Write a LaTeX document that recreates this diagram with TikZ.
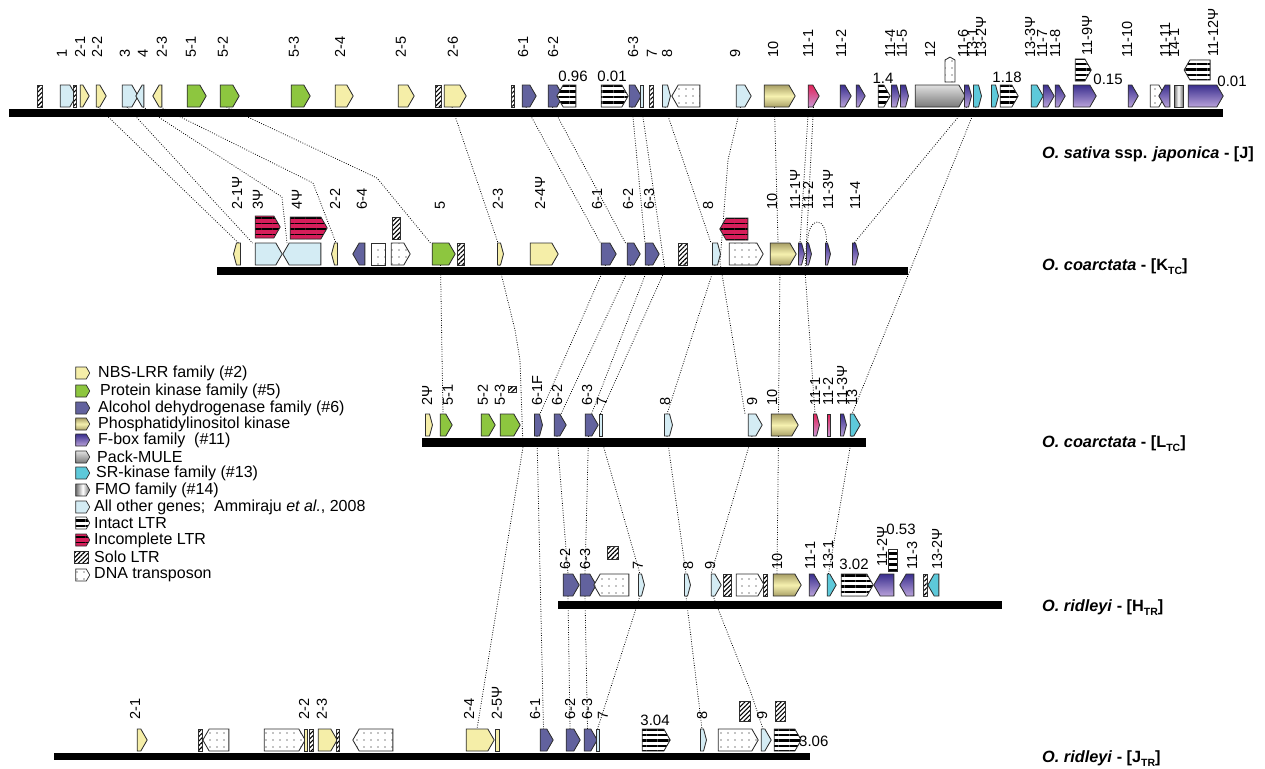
\documentclass[tikz,border=0pt]{standalone}
\usepackage{fontspec}
\setmainfont{Liberation Sans}
\usepackage{xcolor}
\definecolor{edge}{HTML}{2E2E2E}
\definecolor{nbs}{HTML}{F5EEA8}
\definecolor{pkin}{HTML}{8DC63F}
\definecolor{adh}{HTML}{62629E}
\definecolor{pikA}{HTML}{F6F1B0}
\definecolor{pikB}{HTML}{A9A066}
\definecolor{fbA}{HTML}{3A2F8E}
\definecolor{fbB}{HTML}{B9A2DA}
\definecolor{rdA}{HTML}{E2235A}
\definecolor{rdB}{HTML}{C995D2}
\definecolor{muleA}{HTML}{E0E0E0}
\definecolor{muleB}{HTML}{7A7A7A}
\definecolor{srk}{HTML}{5DC9DA}
\definecolor{fmoA}{HTML}{6E6E6E}
\definecolor{other}{HTML}{D4ECF4}
\definecolor{ltrred}{HTML}{D61E5A}
\usepackage{tikz}
\usetikzlibrary{shapes.symbols, patterns.meta, backgrounds}
\newcommand{\gene}[5]{\node[#1, minimum width={#4-#3}] (#2) at ({(#3+#4)/2},#5) {};}
\newcounter{lab}
\newcommand{\glab}[3]{\stepcounter{lab}\node[genelab] (lab\thelab) at (#1,#2) {#3};}
\newcommand{\sbx}[1]{\raisebox{-0.45ex}{\fontsize{10.5}{10.5}\selectfont #1}}

\begin{document}
\begin{tikzpicture}[
  x=1pt, y=-1pt,
  gene/.style={
    signal, signal to=east, signal pointer angle=120,
    draw=edge, line width=0.85pt, inner sep=0pt, outer sep=0pt,
    minimum height=22pt
  },
  rev/.style={signal to=west},
  slim/.style={signal pointer angle=150},
  sq/.style={shape=rectangle},
  nbs/.style={gene, fill=nbs},
  pk/.style={gene, fill=pkin},
  adh/.style={gene, fill=adh},
  pik/.style={gene, top color=pikB, bottom color=pikB, middle color=pikA},
  fbox/.style={gene, top color=fbA, bottom color=fbB},
  rdx/.style={gene, top color=rdA, bottom color=rdB},
  mule/.style={gene, top color=muleA, bottom color=muleB},
  srk/.style={gene, fill=srk},
  fmo/.style={gene, left color=fmoA, right color=fmoA, middle color=white},
  oth/.style={gene, fill=other},
  ltr/.style={gene, preaction={fill=white},
    pattern={Lines[angle=0,distance=5.5pt,line width=2.7pt]}},
  iltr/.style={gene, preaction={fill=ltrred},
    pattern={Lines[angle=0,distance=5.5pt,line width=1.8pt]}},
  solo/.style={gene, shape=rectangle, preaction={fill=white},
    pattern={Lines[angle=45,distance=3.2pt,line width=1.1pt]}},
  dna/.style={gene, preaction={fill=white},
    pattern={Dots[distance=7pt,radius=0.7pt]}},
  legico/.style={minimum width=14pt, minimum height=12pt, line width=0.7pt},
  genelab/.style={rotate=90, anchor=west, inner sep=0pt,
    font=\fontsize{14.5}{15}\selectfont},
  numlab/.style={inner sep=0pt, font=\fontsize{15}{16}\selectfont},
  legtxt/.style={anchor=west, inner sep=0pt, font=\fontsize{16}{17}\selectfont},
  species/.style={anchor=west, inner sep=0pt, font=\fontsize{16.3}{17}\selectfont\bfseries},
  conn/.style={line width=0.8pt, dash pattern=on 0.8pt off 1.6pt},
  bar/.style={fill=black}
]
\useasboundingbox (0,0) rectangle (1265,768);

% O. sativa [J]
\fill[bar] (9,109) rectangle (1223,117);
\gene{solo}{j-s1}{37}{42}{96}
\gene{oth}{j1}{57}{73}{96}
\gene{solo}{j-s2}{73}{76}{96}
\gene{nbs}{j21}{77}{86}{96}
\gene{nbs}{j22}{93}{103}{96}
\gene{oth}{j3}{119}{135}{96}
\gene{oth,rev}{j4}{139}{147}{96}
\gene{nbs,rev}{j23}{156}{165}{96}
\gene{pk}{j51}{184}{203}{96}
\gene{pk}{j52}{217}{236}{96}
\gene{pk}{j53}{288}{307}{96}
\gene{nbs}{j24}{332}{350}{96}
\gene{nbs}{j25}{395}{411}{96}
\gene{solo}{j-s3}{435}{441}{96}
\gene{nbs}{j26}{441}{463}{96}
\gene{solo}{j-s4}{511}{514}{96}
\gene{adh}{j61}{519}{533}{96}
\gene{adh}{j62}{545}{560}{96}
\gene{ltr,rev}{j-l1}{560}{579}{96}
\gene{ltr}{j-l2}{598}{625}{96}
\gene{adh}{j63}{626}{638}{96}
\gene{oth,sq}{j7}{640}{643}{96}
\gene{solo}{j-s5}{649}{653}{96}
\gene{oth,slim}{j8}{661}{669}{96}
\gene{dna,rev}{j-d1}{675}{703}{96}
\gene{oth}{j9}{733}{748}{96}
\gene{pik}{j10}{761}{792}{96}
\gene{rdx}{j111}{805}{816}{96}
\gene{fbox}{j112}{837}{848}{96}
\gene{fbox}{j113}{853}{862}{96}
\gene{ltr}{j-l3}{875}{887}{96}
\gene{fbox,slim}{j114}{890}{898}{96}
\gene{fbox,slim}{j115}{899}{907}{96}
\gene{mule}{j12}{912}{962}{96}
\node[dna, signal to=north, minimum width=10pt, minimum height=22pt] (j-d3) at (950,71) {};
\gene{fbox,slim}{j116}{963}{970}{96}
\gene{srk,slim}{j131}{972}{980}{96}
\gene{srk,slim}{j132}{990}{997}{96}
\gene{ltr}{j-l4}{997}{1015}{96}
\gene{srk}{j133}{1028}{1040}{96}
\gene{fbox}{j117}{1040}{1051}{96}
\gene{fbox}{j118}{1052}{1062}{96}
\gene{fbox}{j119}{1070}{1093}{96}
\gene{ltr}{j-l5}{1072}{1088}{70}
\gene{fbox}{j1110}{1125}{1135}{96}
\gene{dna}{j-d2}{1147}{1162}{96}
\gene{fbox,rev}{j1111}{1162}{1173}{96}
\gene{fmo,sq}{j141}{1174}{1183}{96}
\gene{fbox}{j1112}{1185}{1220}{96}
\gene{ltr,rev,minimum height=20pt}{j-l6}{1187}{1213}{70}
\node[numlab] (n1) at (573,76) {0.96};
\node[numlab] (n2) at (612,76) {0.01};
\node[numlab] (n3) at (883,78) {1.4};
\node[numlab] (n4) at (1007,77) {1.18};
\node[numlab] (n5) at (1108,79) {0.15};
\node[numlab] (n6) at (1232,81) {0.01};
\glab{62}{58}{1}\glab{80}{58}{2-1}\glab{97}{58}{2-2}\glab{125}{58}{3}
\glab{143}{58}{4}\glab{162}{58}{2-3}\glab{191}{58}{5-1}\glab{223}{58}{5-2}
\glab{294}{58}{5-3}\glab{340}{58}{2-4}\glab{401}{58}{2-5}\glab{453}{58}{2-6}
\glab{523}{58}{6-1}\glab{553}{58}{6-2}\glab{633}{58}{6-3}\glab{652}{58}{7}
\glab{667}{58}{8}\glab{735}{58}{9}\glab{773}{58}{10}\glab{808}{58}{11-1}
\glab{841}{58}{11-2}\glab{890}{58}{11-4}\glab{902}{58}{11-5}\glab{930}{58}{12}
\glab{963}{58}{11-6}\glab{972}{58}{13-1}\glab{981}{58}{13-2Ψ}\glab{1030}{58}{13-3Ψ}
\glab{1042}{58}{11-7}\glab{1055}{58}{11-8}\glab{1087}{56}{11-9Ψ}\glab{1127}{58}{11-10}
\glab{1165}{58}{11-11}\glab{1174}{58}{14-1}\glab{1213}{57}{11-12Ψ}

% O. coarctata [KTC]
\fill[bar] (217,267) rectangle (908,275);
\gene{nbs,rev,slim}{k21p}{235}{242}{254}
\gene{oth}{k3p}{252}{279}{254}
\gene{iltr}{k-i1}{252}{277}{227}
\gene{oth,rev}{k4p}{286}{324}{254}
\gene{iltr}{k-i2}{287}{324}{228}
\gene{nbs,rev,slim}{k22}{333}{339}{254}
\gene{adh,rev}{k64}{356}{368}{254}
\gene{dna,sq}{k-d1}{371}{385}{254}
\gene{dna}{k-d2}{388}{407}{254}
\gene{solo}{k-s1}{392}{400}{228}
\gene{pk}{k5}{429}{452}{254}
\gene{solo}{k-s2}{457}{464}{254}
\gene{nbs,slim}{k23}{496}{502}{254}
\gene{nbs}{k24p}{527}{555}{254}
\gene{adh}{k61}{598}{613}{254}
\gene{adh}{k62}{624}{637}{254}
\gene{adh}{k63}{642}{656}{254}
\gene{solo}{k-s3}{678}{687}{254}
\gene{oth,slim}{k8}{711}{719}{254}
\gene{dna}{k-d3}{726}{760}{254}
\gene{iltr,rev}{k-i3}{723}{751}{229}
\gene{pik}{k10}{767}{793}{254}
\gene{fbox,slim}{k111p}{797}{803}{254}
\gene{fbox,slim}{k112}{805}{810}{254}
\gene{fbox,slim}{k113p}{824}{829}{254}
\gene{fbox,slim}{k114}{851}{857}{254}
\glab{237}{210}{2-1Ψ}\glab{258}{210}{3Ψ}\glab{297}{210}{4Ψ}\glab{335}{210}{2-2}
\glab{362}{210}{6-4}\glab{440}{210}{5}\glab{498}{210}{2-3}\glab{540}{210}{2-4Ψ}
\glab{597}{210}{6-1}\glab{628}{210}{6-2}\glab{649}{210}{6-3}\glab{708}{210}{8}
\glab{772}{210}{10}\glab{795}{210}{11-1Ψ}\glab{808}{210}{11-2}\glab{828}{210}{11-3Ψ}
\glab{855}{210}{11-4}

% O. coarctata [LTC]
\fill[bar] (422,438) rectangle (866,447);
\gene{nbs,slim}{l2p}{424}{431}{425}
\gene{pk}{l51}{437}{449}{425}
\gene{pk}{l52}{478}{492}{425}
\gene{pk}{l53}{497}{517}{425}
\node[solo, minimum width=8pt, minimum height=6pt] (l-s1) at (512,389) {};
\gene{adh,slim}{l61F}{533}{541}{425}
\gene{adh}{l62}{551}{563}{425}
\gene{adh}{l63}{582}{595}{425}
\gene{oth,sq}{l7}{599}{602}{425}
\gene{oth,slim}{l8}{663}{671}{425}
\gene{oth}{l9}{745}{759}{425}
\gene{pik}{l10}{768}{795}{425}
\gene{rdx,slim}{l111}{812}{818}{425}
\gene{rdx,sq}{l112}{827}{830}{425}
\gene{fbox,slim}{l113p}{839}{845}{425}
\gene{srk}{l13}{847}{857}{425}
\glab{427}{406}{2Ψ}\glab{448}{406}{5-1}\glab{483}{406}{5-2}\glab{500}{406}{5-3}
\glab{537}{406}{6-1F}\glab{557}{406}{6-2}\glab{587}{406}{6-3}\glab{602}{406}{7}
\glab{665}{406}{8}\glab{752}{406}{9}\glab{772}{406}{10}\glab{815}{406}{11-1}
\glab{828}{406}{11-2}\glab{842}{406}{11-3Ψ}\glab{852}{406}{13}

% O. ridleyi [HTR]
\fill[bar] (558,601) rectangle (1002,609);
\gene{adh}{h62}{560}{576}{585}
\gene{adh}{h63}{577}{593}{585}
\gene{dna,rev}{h-d1}{597}{632}{585}
\gene{solo,minimum height=13pt}{h-s1}{607}{618}{553}
\gene{oth,slim}{h7}{637}{643}{585}
\gene{oth,slim}{h8}{683}{689}{585}
\gene{oth}{h9}{708}{718}{585}
\gene{solo}{h-s2}{723}{731}{585}
\gene{dna}{h-d2}{733}{761}{585}
\gene{solo}{h-s3}{763}{767}{585}
\gene{pik}{h10}{770}{798}{585}
\gene{fbox}{h111}{806}{817}{585}
\gene{srk}{h131}{824}{833}{585}
\gene{ltr}{h-l1}{838}{870}{585}
\gene{fbox,rev}{h112p}{877}{897}{585}
\gene{ltr,sq,minimum height=22pt}{h-l2}{888}{897}{560}
\gene{fbox,rev}{h113}{903}{917}{585}
\gene{solo}{h-s4}{923}{927}{585}
\gene{srk,rev}{h132p}{931}{942}{585}
\node[numlab] (n7) at (854,564) {3.02};
\node[numlab] (n8) at (901,529) {0.53};
\glab{565}{570}{6-2}\glab{585}{570}{6-3}\glab{638}{570}{7}\glab{688}{570}{8}
\glab{710}{570}{9}\glab{777}{570}{10}\glab{810}{570}{11-1}\glab{828}{570}{13-1}
\glab{882}{567}{11-2Ψ}\glab{912}{570}{11-3}\glab{937}{570}{13-2Ψ}

% O. ridleyi [JTR]
\fill[bar] (54,753) rectangle (810,760);
\gene{nbs}{t21}{134}{144}{740}
\gene{solo}{t-s1}{198}{202}{740}
\gene{dna,rev}{t-d1}{206}{232}{740}
\gene{dna}{t-d2}{261}{302}{740}
\gene{nbs,sq}{t22}{304}{307}{740}
\gene{solo}{t-s2}{309}{313}{740}
\gene{nbs}{t23}{315}{334}{740}
\gene{solo}{t-s3}{336}{339}{740}
\gene{dna,rev}{t-d3}{356}{396}{740}
\gene{nbs}{t24}{463}{491}{740}
\gene{nbs,sq}{t25p}{495}{499}{740}
\gene{adh}{t61}{537}{550}{740}
\gene{adh}{t62}{563}{577}{740}
\gene{adh}{t63}{581}{594}{740}
\gene{oth,sq}{t7}{596}{599}{740}
\gene{ltr}{t-l1}{639}{667}{740}
\gene{oth,slim}{t8}{699}{705}{740}
\gene{dna}{t-d4}{715}{755}{740}
\gene{oth}{t9}{758}{768}{740}
\gene{ltr}{t-l2}{771}{798}{740}
\gene{solo,minimum height=20pt}{t-s4}{739}{750}{711}
\gene{solo,minimum height=20pt}{t-s5}{775}{785}{711}
\node[numlab] (n9) at (655,720) {3.04};
\node[numlab, anchor=west] (n10) at (799,741) {3.06};
\glab{135}{720}{2-1}\glab{304}{720}{2-2}\glab{322}{720}{2-3}\glab{469}{720}{2-4}
\glab{497}{720}{2-5Ψ}\glab{535}{720}{6-1}\glab{570}{720}{6-2}\glab{587}{720}{6-3}
\glab{603}{720}{7}\glab{702}{720}{8}\glab{762}{720}{9}

% species
\node[species] (sp1) at (1042,154) {\textit{O. sativa} ssp. \textit{japonica} - [J]};
\node[species] (sp2) at (1042,267) {\textit{O. coarctata} - [K\sbx{TC}]};
\node[species] (sp3) at (1042,444) {\textit{O. coarctata} - [L\sbx{TC}]};
\node[species] (sp4) at (1042,608) {\textit{O. ridleyi} - [H\sbx{TR}]};
\node[species] (sp5) at (1042,759) {\textit{O. ridleyi} - [J\sbx{TR}]};

% legend
\node[nbs, legico] (lg1) at (81,373) {};
\node[legtxt] (lt1) at (98,373) {NBS-LRR family (\#2)};
\node[pk, legico] (lg2) at (81,391) {};
\node[legtxt] (lt2) at (100,391) {Protein kinase family (\#5)};
\node[adh, legico] (lg3) at (81,408) {};
\node[legtxt] (lt3) at (98,408) {Alcohol dehydrogenase family (\#6)};
\node[pik, legico] (lg4) at (81,424) {};
\node[legtxt] (lt4) at (98,424) {Phosphatidylinositol kinase};
\node[fbox, legico] (lg5) at (81,440) {};
\node[legtxt] (lt5) at (98,440) {F-box family\ \ (\#11)};
\node[mule, legico] (lg6) at (81,457) {};
\node[legtxt] (lt6) at (97,457) {Pack-MULE};
\node[srk, legico] (lg7) at (81,473) {};
\node[legtxt] (lt7) at (96,473) {SR-kinase family (\#13)};
\node[fmo, legico] (lg8) at (81,490) {};
\node[legtxt] (lt8) at (95,490) {FMO family (\#14)};
\node[oth, legico] (lg9) at (81,507) {};
\node[legtxt] (lt9) at (94,507) {All other genes;\ \ Ammiraju \textit{et al.}, 2008};
\node[ltr, legico] (lg10) at (81,523) {};
\node[legtxt] (lt10) at (94,523) {Intact LTR};
\node[iltr, legico] (lg11) at (81,540) {};
\node[legtxt] (lt11) at (94,540) {Incomplete LTR};
\node[solo, legico] (lg12) at (81,557) {};
\node[legtxt] (lt12) at (94,557) {Solo LTR};
\node[dna, legico] (lg13) at (81,575) {};
\node[legtxt] (lt13) at (94,575) {DNA transposon};

\begin{scope}[on background layer]
  \draw[conn] (j22.south) -- (k21p.north);
  \draw[conn] (j3.south) -- ([xshift=-13pt]k3p.north);
  \draw[conn] (j4.south) -- (282,197) -- ([xshift=-18pt]k4p.north);
  \draw[conn] (j23.south) -- (313,183) -- (k22.north);
  \draw[conn] (j52.south) -- (377,178) -- ([xshift=-10pt]k5.north);
  \draw[conn] (j26.south) -- ([xshift=-1pt]k23.north);
  \draw[conn] (j61.south) -- ([xshift=-5pt]k61.north);
  \draw[conn] (j62.south) -- ([xshift=-5pt]k62.north);
  \draw[conn] (j63.south) -- ([xshift=-4pt]k63.north);
  \draw[conn] (j7.south) -- (665,270) -- (l7.north);
  \draw[conn] (j8.south) -- ([xshift=-4pt]k8.north);
  \draw[conn] (j9.south) -- (728,160) -- (720,262) -- ([xshift=-7pt]l9.north);
  \draw[conn] ([xshift=-2pt]j10.south) -- ([xshift=-2pt]k10.north);
  \draw[conn] ([xshift=-2pt]j111.south) -- (k111p.north);
  \draw[conn] ([xshift=3pt]j111.south) -- (805,270) -- (l111.north);
  \draw[conn] (j116.south) -- (k114.north);
  \draw[conn] (j131.south) -- (l13.north);
  \draw[conn] (k112.north) .. controls (808,215) and (827,215) .. (k113p.north);
  \draw[conn] (k5.south) -- (l51.north);
  \draw[conn] (k23.south) -- (515,330) -- (520,360) -- (523,447) -- (t24.north);
  \draw[conn] (k61.south) -- ([xshift=3pt]l61F.north);
  \draw[conn] (k62.south) -- ([xshift=4pt]l62.north);
  \draw[conn] (k63.south) -- ([xshift=3pt]l63.north);
  \draw[conn] (k8.south) -- (l8.north);
  \draw[conn] (k10.south) -- ([xshift=-3pt]l10.north);
  \draw[conn] (l61F.south) -- (t61.north);
  \draw[conn] (l62.south) -- (h62.north);
  \draw[conn] (l63.south) -- (h63.north);
  \draw[conn] (l7.south) -- (h7.north);
  \draw[conn] (l8.south) -- (h8.north);
  \draw[conn] (l9.south) -- ([xshift=-2pt]h9.north);
  \draw[conn] ([xshift=-3pt]l10.south) -- ([xshift=-7pt]h10.north);
  \draw[conn] (l13.south) -- (h131.north);
  \draw[conn] (h62.south) -- (t62.north);
  \draw[conn] (h63.south) -- (t63.north);
  \draw[conn] (h7.south) -- (t7.north);
  \draw[conn] (h8.south) -- (t8.north);
  \draw[conn] (h9.south) -- (750,690) -- (t9.north);
\end{scope}
\end{tikzpicture}
\end{document}
